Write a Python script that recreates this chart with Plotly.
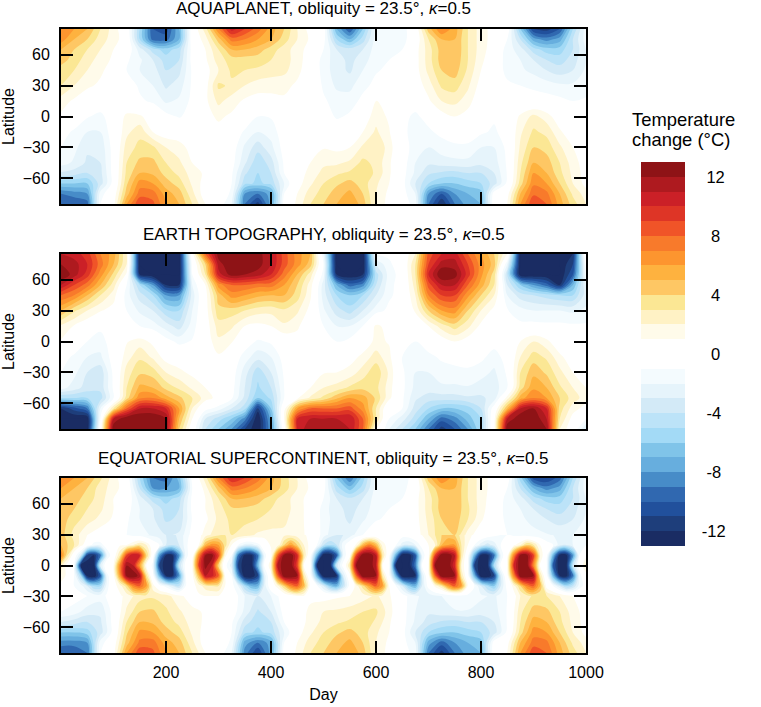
import plotly.graph_objects as go

# ---------- shared axes ----------
days = [25 * i for i in range(41)]
days_fine = [12.5 * i for i in range(81)]
lats = [85, 75, 65, 55, 45, 30, 15, 0, -15, -30, -45, -55, -65, -75, -85]
lat_ticks = [-60, -30, 0, 30, 60]
day_ticks = [200, 400, 600, 800, 1000]
cbar_ticks = [12, 8, 4, 0, -4, -8, -12]
cbar_text = ["\u00a012", "\u00a0\u00a08", "\u00a0\u00a04", "\u00a0\u00a00", "\u00a0-4", "\u00a0-8", "-12"]
titles = ["AQUAPLANET, obliquity = 23.5°, <i>κ</i>=0.5",
          "EARTH TOPOGRAPHY, obliquity = 23.5°, <i>κ</i>=0.5",
          "EQUATORIAL SUPERCONTINENT, obliquity = 23.5°, <i>κ</i>=0.5"]

blues = ["#1A2C63", "#1E3E7B", "#21509C", "#3068B0", "#478CC8", "#67AEDE",
         "#80C4E9", "#A3DAF6", "#BCE3F8", "#D3EAF7", "#E6F4FB", "#F4FBFE"]
reds = ["#FFFBEA", "#FFF2C5", "#FBE794", "#FEC764", "#FEB23F", "#FD952F",
        "#F87A2B", "#F05428", "#DE3526", "#CB2027", "#AE1A1F", "#8E1316"]

# ---------- panel 1: aquaplanet ----------
aqua_z = [
 [7,6,5,3,1.5,0,-5,-10,-10.5,-7,0,2.5,7,10.5,9,7.5,5.5,4,2,.5,-.2,-7,-10,-6,-1.5,-1.5,-1.5,0,4.5,7,5.5,3,1.5,.5,0,-6,-11,-11.5,-10,-5,-1.5],
 [6.5,5,4,2.5,1.5,.3,-5,-9.5,-9.5,-7,0,1.5,4.5,7.5,7,6,5,3.5,2,.8,-.5,-5,-7,-4.5,-1.5,-1.5,-1.5,0,3,5,5,3,1.5,.5,-1,-4,-7.5,-8.5,-7.5,-4,-1.5],
 [5,4,3,2,1,0,-2.5,-4.5,-5.5,-4.5,-.5,1,3,5,5,4.5,3.5,2.5,1.5,.5,-1,-3,-3.5,-3,-1.5,-1.2,-1,.5,2.5,4.5,5,3,1.5,.3,-1.5,-2.5,-4.5,-5.5,-5.5,-4,-2],
 [4.5,3.5,2.5,1.5,.8,-.8,-1.8,-3,-4.5,-4,-.5,.8,2.5,3.5,3.5,3.5,3,2.5,1.5,.3,-1.5,-2.5,-3.3,-2.5,-1.3,-1,-.8,.5,2.5,4.5,4.8,3,1.3,0,-1.5,-2,-3,-4,-4.5,-3.5,-2],
 [3.5,3,2,1.2,.5,-1,-2,-2.5,-4,-3.3,-.8,.5,2,3.2,3,2.8,2.6,2.3,1.3,.3,-1.5,-2.5,-3.2,-2,-1.1,-.8,-.5,.5,2.3,4,4.5,2.8,1,-.3,-1.3,-1.8,-2.3,-3,-3.5,-3,-1.8],
 [3,2,1.2,.8,.3,-.3,-1.2,-2,-3.2,-2.5,-.8,.5,3.2,2.8,2,1.5,1.3,1.3,.8,.3,-1.2,-2.2,-2.3,-1.3,-.7,-.3,0,.3,1.5,3.2,3.5,2.2,.5,-.3,-.8,-1,-1.2,-1.5,-1.8,-1.8,-1.3],
 [1.5,.8,.2,-.2,0,-.3,-.8,-1.2,-2.2,-1.8,-.7,.7,2.3,1.5,.8,.5,.7,.8,.5,.1,-.8,-1.5,-1.5,-.7,1.1,.3,0,-.5,.8,2,2.3,1.5,0,-.2,-.3,-.3,-.5,-.5,-.7,-1,-.9],
 [.8,0,-.9,-1.3,-.3,1.3,1.2,.3,-.6,-1.1,-.6,.6,1.2,.8,.1,-1,-.9,0,.3,.2,-.1,-1.2,-.8,.2,1.6,.8,-.7,-1.2,-.6,.5,1,.5,-.2,-.8,-.2,1.2,2.3,1.5,.2,-.5,-.8],
 [-.5,-1.2,-2,-2,-.3,1.7,2.7,1,.3,.2,0,.3,.6,0,-1.2,-2,-1.6,-.3,.3,.4,.4,.1,.3,1,2.2,1.1,-.8,-1.3,-1.2,-.7,-.2,-.2,-.8,-1.2,-.4,1.8,3.2,2.7,1.2,.1,-.1],
 [-1,-1.7,-2.8,-2.7,-.5,2.5,3.3,3.2,2,1.5,.5,.6,.5,-.3,-2.2,-3.6,-2.3,-.5,.3,.6,.9,.7,1,2.2,3,1.5,-.4,-1.5,-2,-1.5,-1.3,-1.3,-2,-2,-.7,2.2,4,3.6,2.2,1,.2],
 [-1.5,-2.2,-3.2,-3,-.5,3,4.3,4.3,3,2.2,1,.7,.4,-.5,-2.8,-4.8,-3.5,-.8,.3,1,1.8,1.8,2.2,3.3,2.7,1.2,-.4,-2,-2.8,-2.5,-2.3,-2.3,-2.7,-2.5,-.8,2.7,5,4.5,3,1.5,.4],
 [-3.2,-3.5,-4,-3.3,-.5,3.3,5,4.8,3.6,2.7,1.5,.8,.3,-.8,-3.8,-5,-4,-1,.3,1.4,2.3,2.8,3.2,3.7,2.8,1.2,-.5,-2.2,-3.8,-4.2,-4.4,-4,-4,-3,-.9,3,6,5,3.3,1.7,.5],
 [-6,-6,-6,-3.5,-.5,3.8,6.5,6,4.5,3.5,1.8,.5,0,-1,-4.7,-5.2,-4.7,-2,.5,1.8,3,3.8,4.4,3.5,2.2,1,-.5,-3,-5,-6,-6,-5.5,-5,-3.5,-.7,3.5,6.8,6,4,2,.6],
 [-9,-8.5,-8,-1.5,.2,4.5,7.5,7.5,5.5,4.5,2.3,.3,-.2,-1.2,-8,-9,-7.5,-1,1,2.5,3.5,4.5,5.3,4,2,.7,-.5,-2,-8,-10,-8,-7,-6.5,-.3,.5,5,7.8,7.3,5,2.8,1.5],
 [-10,-10,-9.5,-1,.5,6,9,8.3,6,5,3,1,-.3,-2,-9,-11.5,-7.5,-.5,1.3,3,4,5,6,4.5,2,.5,-.3,-1.5,-9,-12,-9,-7.5,-7,0,1,6,9,8,5.5,3.5,2],
]

# ---------- panel 2: earth topography ----------
earth_z = [
 [11,10.5,9.5,7,5.5,2,-13,-13,-13,-13,.5,8,12.5,13,13,12.5,11,8.5,6.5,5,-2,-13,-13,-13,-1,-.8,0,2,8.5,10,10.5,8,6,4,1,-13,-13,-13,-13,-12,1],
 [12,11.5,10,7.5,5,2,-13,-13,-13,-13,-.5,4,11.5,13,13,12.5,11,8.5,6.5,4.5,-1,-13,-13,-13,-3,-1.2,-.3,3,9,11.5,11.5,9,6.5,4.5,-2,-13,-13,-13,-13,-11,-.5],
 [13,11.5,9.5,6.5,3.7,.8,-12,-13,-13,-13,-1,3,10.5,12.5,12,11.5,10,7.5,5,2.5,-1.5,-12,-13,-12,-4.5,-1.5,-.5,3,10,13,12.5,9.5,6.3,3.5,-4,-13,-13,-13,-13,-10,-1],
 [11,9,7.5,5,2.5,-1,-5,-8,-12,-12,-2,1,6.5,8,8,7.5,7.5,6,4,1.5,-2.5,-7,-9.5,-8.5,-4,-1.3,-.5,2.5,8.5,11,11,8,5.5,3,-3,-6,-8,-9.5,-12,-7,-2],
 [8,7,5,3,1.5,-1.5,-3.5,-5,-8,-8,-2.5,.5,4.5,6.5,6,5.3,5,5,3.5,1.2,-2.5,-5,-6,-5,-3,-1.2,-.5,2,7,9,9,6.3,4,2,-2,-3.5,-4,-4.5,-5,-5,-2.5],
 [5,3.2,2,1.1,.5,-1,-2.2,-3,-4.7,-5,-2,.4,3.7,3.5,3,2.4,2.3,2.8,2.2,.6,-1.8,-3.5,-4.5,-3,-1.5,-.7,-.4,1.2,4,6,6.5,4,2,.6,-.9,-1.6,-2,-2,-2,-2.2,-1.8],
 [1.8,.9,.1,-.7,-.4,-.5,-1,-1.5,-2.5,-3.5,-1.5,.3,2.5,2.2,1,.7,1,1.8,1.2,.1,-1,-2,-2,-1,1.3,.5,.1,-.5,1,2.5,3.5,2.3,.7,-.3,-.7,-.7,-.6,-.7,-.7,-.8,-.8],
 [.9,0,-1,-1.5,-.3,.9,1.5,.7,-.5,-1.3,-.9,.2,1.8,1.1,-.2,-1.2,-.8,.1,.5,0,-.5,-1,-.7,.2,1.3,.9,-.5,-1,-.3,.3,1,.4,-.2,-.5,-.3,1,2,1.3,0,-.5,-.7],
 [-.5,-1.2,-2,-2.2,-.4,1.5,2.8,1.8,.5,.2,0,.3,.8,0,-1.5,-2.6,-2,-.5,.4,.5,.5,.2,.5,1.3,2.5,1.3,-1,-1.8,-1.3,-.8,-.5,-.3,-.7,-1.5,-.5,2,3.5,2.8,1.3,.2,-.2],
 [-1,-1.7,-3,-3.7,-.7,2.5,3.8,3.5,2,1.3,.7,.6,.7,-.3,-2.5,-4.7,-3,-.8,.4,.6,.9,1,1.4,2.5,3.7,1.8,-.8,-2,-2,-1.5,-1.4,-1.3,-1.6,-2.2,-.8,3,4.7,3.8,2.3,1,.2],
 [-1.6,-2.5,-3.5,-3.7,-.8,3,5.3,5,3.7,2.8,1.8,1,.6,-.5,-3,-5.2,-4,-1,.3,1,2,2.4,3.2,3.7,3.3,1.5,-.7,-2.3,-2.5,-2.2,-2.2,-2.1,-2.5,-2.6,-1,3.5,5.8,5,3.2,2,1],
 [-5,-5,-5,-4.5,-1,3.5,6.8,7,5.5,4.3,3,1.5,.6,-.8,-3.3,-6,-4.8,-1,.8,2.2,3.3,4.8,6,5.5,3.8,1.3,-.8,-2.8,-3.5,-3.5,-3.5,-3.2,-3.2,-2.6,1.5,5.5,7,6,4,2.5,1.5],
 [-12,-10.5,-9,-2,3,8,11,11,10,6,2,-.5,-1.5,-3,-4.5,-11.5,-6,.5,6,8,8,8,8.5,6.5,3,-.5,-1,-3.5,-5,-6,-6,-5.5,-4,-.3,5,11,12,10,3.5,1.5,.5],
 [-13,-13,-13,-1,11,13,13,13,12,5,1,-3,-4.5,-6,-8.5,-13,-7.5,1,10,11,11,11,11,8,3,-1,-2.5,-4.5,-7,-9.5,-8.5,-6.5,-5,.5,11,13,13,11,3,.5,-1],
 [-13,-13,-13,0,13,13,13,13,12,4,0,-4,-6,-8,-11,-13,-8,0,10,12,11.5,12,11,8,1,-2,-4,-6,-9,-11.5,-10,-8,-5,.5,13,13,13,12,2,0,-3],
]

# ---------- panel 3: equatorial supercontinent ----------
equa_north_lats = [85, 75, 65, 55, 45]
equa_north_z = [
 [7,6,5,3.2,1.5,0,-5,-9,-9.5,-6.5,-.5,2.5,7,10,9,7.5,5.5,3.5,2,.5,-.2,-6,-9,-5.5,-1.5,-1.5,-2,0,4.5,7,5.5,3,1.5,.5,0,-5.5,-10.5,-11,-9.5,-5,-1.5],
 [6,5,4,2.5,1.5,.3,-4,-8,-8,-7,-1,1.5,4.5,7.5,7,6,5,3.5,2,.8,-.5,-4.5,-6.5,-4.5,-1.5,-1.5,-1.5,0,3,5,5,3,1.5,.5,-1,-4,-7,-8.5,-7.5,-4,-1.5],
 [5,4.5,3.5,2.5,1,0,-2.5,-4.5,-5.5,-4.5,-.7,1,3,5,5,4.5,3.5,2.5,1.5,.5,-1,-3,-3.8,-3,-1.5,-1.2,-1,.5,2.5,4.5,5,3,1.5,.3,-1.5,-2.5,-4.5,-5.5,-5.5,-4,-2],
 [4.8,4,3,2.2,1,-.5,-2,-3,-4.5,-4,-.7,1,2.5,3.8,3.8,3.5,3,2.5,1.5,.5,-1.5,-2.7,-3.3,-2.7,-1.3,-1,-.8,.5,2.5,4.5,4.8,3.2,1.5,0,-1.5,-2,-3,-4,-4.5,-3.5,-2],
 [4.5,3.5,2.5,1.7,.8,-.8,-2,-2.8,-4.2,-3.8,-.9,.7,2.3,3.3,3.3,3,2.8,2.2,1.5,.5,-1.5,-2.5,-3.2,-2.2,-1.1,-.8,-.5,.5,2.3,4,4.6,3,1.2,-.2,-1.3,-1.8,-2.3,-3,-3.5,-3,-1.8],
]
equa_band_lats = [29.63, 20, 10, 0, -10, -20, -29.63]
equa_band_z = [
 [4.5,3.5,2.5,1.8,1,.5,.3,.1,-.3,-.5,-1,-1.3,-1.5,-2,-2.2,-2.5,-3,-3.2,-2.8,-1.5,-.5,.7,1.5,2.2,2.8,3,3,2.8,2.5,2.2,1.8,1.5,1.5,1.5,1.8,1.8,1.5,1.2,.6,-.5,-1.5,-2.5,-3,-3,-2.5,-1.5,-1,-.5,-.2,0,0,-.2,-.5,-.3,.3,1,2,3,4,4.5,4,2.5,1.5,.7,.2,-.3,-.8,-1,-1,-1.2,-1.3,-1.5,-1.7,-1.8,-1.9,-2,-2.2,-2.2,-2,-1.5,-1],
 [5,4,3,1.5,0,-1.5,-1.5,-.3,.5,.8,1,2,3,2,0,-1,-3,-4,-3,-1.5,.3,1,5,6.5,6,3.5,1,-1,-2.5,-2.5,-1.5,0,1.2,1.2,4,6,4,2,.5,-1,-4,-5,-4,-1.5,0,1.2,5,7,5,1.5,.3,-.8,-2.5,-3,-2,-.5,1,2,5,6,6,3,1,-1,-2.5,-3.5,-2.5,-1,0,.7,2,4,3,1,-.5,-1,-2.5,-3,-2,-1,-1],
 [7,3,0,-3,-11,-12,-9,-2, 0,3,9,11,10,4,0,-8, -12,-12,-8,-1.5,0,7,12,12.5, 9,1.5,-1,-9,-12.5,-12.5,-9,-1.5, .5,8,12.5,13,10,3,-.5,-7, -13,-13,-10,-2,.5,9,13,13, 11,3,-.5,-7,-13,-13,-10,-2, .5,9,13,13,11,3,-.5,-7, -12.5,-12.5,-9,-2,.5,7,12.5,12.5, 9,2,-.5,-7,-12.5,-12.5,-8,-1, .5],
 [2.5,.3,-1,-12,-13,-13,-3,.3, 1,7,12,11,6,1,-1.5,-11, -13,-12,-4,-.5,1,9,12.5,11, 4,-.5,-2.5,-11,-13,-13,-7,-.7, 2,11,13,13,9,1,-.5,-12, -13,-13,-3.5,-.5,3,12.5,13,13, 11,1,-.5,-12,-13,-13,-9,-1, 1,12.5,13,13,10,2,-.5,-11, -13,-12.5,-5,-.7,1,10,13,13, 7,.8,-.8,-10,-13,-12.5,-4,-.5, 2.5],
 [2,.5,-1,-5,-12.5,-13,-10,-1.5, .5,6,12.5,13,11.5,3.5,-.5,-7, -12,-12,-8,-1,.5,5,11,10.5, 8,1,-1,-8,-13,-13,-11,-2.5, .5,8,13,13,12,3,-.5,-7, -13,-13,-12,-3,.5,8,13,13, 12,3,-.5,-7,-13,-13,-12,-3, .5,8,13,13,12,3,-.5,-7, -13,-13,-11,-3,.5,7,13,13, 12,3,-.5,-7,-12,-12.5,-9,-1.5, .3],
 [.3,-.5,-1,-1.5,-3,-5,-5,-1.5,.5,1.5,3.5,7,8,6,1.5,-.3,-1.5,-3,-4,-1,.5,1.5,2.5,3,3,1,-.5,-2,-5,-7,-7,-2.5,0,1.5,4,7,8,5,.5,-.7,-3,-6,-7,-4,-.5,1.5,3.5,6,8,6,1,-.8,-3,-6,-7,-3,-.5,1.3,3,6,8,6,.8,-1,-3,-5,-6,-3,-.5,1.5,4,7,8,5,.5,-1,-3,-5,-4,-1.5,-.5],
 [-.3,-.4,-.5,-.7,-1,-1.3,-1.5,-.8,-.2,.8,1.5,2.1,2.5,2.7,2.8,2.7,2.5,1.8,1.2,.9,.6,.8,1,1,1,.5,0,-1,-2,-2.6,-3,-2.5,-2,-1,-.2,.4,1,1,.8,.6,.5,.6,.8,.9,1,1.2,1.5,1.9,2.2,1.7,1.2,.3,-.5,-1.2,-1.8,-2.2,-2.5,-2.2,-2,-1.7,-1.5,-1.4,-1.3,-1.5,-1.8,-2,-2.2,-1.6,-1,.5,2,2.7,3.2,3.1,3,2.5,2,1.5,1,.6,.2],
]
equa_south_lats = [-45, -55, -65, -75, -85]
equa_south_z = [
 [-1,-1.5,-2.5,-2.8,-.5,2.2,4,4.2,3.2,2.2,1.2,.9,.6,-.2,-2.3,-4.2,-3,-.5,.5,1.2,2,2.2,2.5,3,3.2,1.5,-.5,-2,-2.8,-2.3,-2.1,-2.1,-2.5,-2.5,-.9,2.7,4.5,4.3,3,1.5,.5],
 [-3,-3.5,-4,-3.2,-.5,3,5,4.8,3.6,2.7,1.5,.8,.3,-.8,-3.5,-4.8,-4,-1,.3,1.4,2.3,2.8,3.2,3.7,2.8,1.2,-.5,-2.2,-3.5,-4.2,-4.4,-4,-4,-3,-.9,3,5.5,5,3.3,1.7,.5],
 [-6,-6,-5.5,-3.5,-.5,3.8,6.3,6,4.5,3.5,1.8,.5,0,-1,-4.7,-5.2,-4.7,-2,.5,1.8,3,3.8,4.4,3.5,2.2,1,-.5,-3,-5,-5.8,-6,-5.5,-5,-3.5,-.7,3.5,6.5,6,4,2,.6],
 [-8.5,-8.5,-8,-1.5,.2,4.5,7.3,7.5,5.5,4.5,2.3,.3,-.2,-1.2,-7.5,-9,-7.5,-1,1,2.5,3.5,4.5,5.3,4,2,.7,-.5,-2,-7.5,-9.5,-8,-7,-6.5,-.3,.5,5,7.5,7.3,5,2.8,1.5],
 [-10,-10,-9,-1,.5,6,8.8,8.3,6,5,3,1,-.3,-2,-8.5,-11,-7.5,-.5,1.3,3,4,5,6,4.5,2,.5,-.3,-1.5,-9,-11.5,-9,-7.5,-7,0,1,6,8.8,8,5.5,3.5,2],
]

for grid, width in [(aqua_z, 41), (earth_z, 41), (equa_north_z, 41), (equa_south_z, 41), (equa_band_z, 81)]:
    assert all(len(row) == width for row in grid), [len(r) for r in grid]

# ---------- colour scale: one flat step per contour band ----------
bands = blues + ["#FFFFFF", "#FFFFFF"] + reds
colorscale = []
for i, c in enumerate(bands):
    colorscale.append([i / len(bands), c])
    colorscale.append([(i + 1) / len(bands), c])


def contour(x, y, z, axis, show=False):
    return go.Contour(
        x=x, y=y, z=z, xaxis="x" + axis, yaxis="y" + axis,
        colorscale=colorscale, zmin=-13, zmax=13,
        contours=dict(start=-13, end=13, size=1, coloring="fill", showlines=False),
        line=dict(width=0, smoothing=1), hoverinfo="skip", showscale=show,
        colorbar=dict(
            x=641 / 761, xanchor="left", xpad=0, ypad=0,
            y=1 - 162 / 707, yanchor="top", len=384 / 707, lenmode="fraction",
            thickness=44, thicknessmode="pixels", outlinewidth=0,
            tickmode="array", tickvals=cbar_ticks, ticktext=cbar_text,
            ticks="outside", ticklen=14, tickcolor="rgba(0,0,0,0)",
            tickfont=dict(size=16.5, color="black"),
        ),
    )


fig = go.Figure()
fig.add_trace(contour(days, lats, aqua_z, "", show=True))
fig.add_trace(contour(days, lats, earth_z, "2"))
fig.add_trace(contour(days, equa_north_lats + [29.63], equa_north_z + [equa_band_z[0][::2]], "3"))
fig.add_trace(contour(days_fine, equa_band_lats, equa_band_z, "3"))
fig.add_trace(contour(days, [-29.63] + equa_south_lats, [equa_band_z[-1][::2]] + equa_south_z, "3"))

FONT = "Liberation Sans, Arial, sans-serif"
panels = [("", 29, 204), ("2", 254, 429), ("3", 478, 653)]
layout = dict(
    width=761, height=707, margin=dict(l=0, r=0, t=0, b=0, autoexpand=False),
    paper_bgcolor="white", plot_bgcolor="white",
    font=dict(family=FONT, size=16, color="black"), showlegend=False,
)
annotations = []
for n, (suffix, top, bottom) in enumerate(panels):
    last = suffix == "3"
    common = dict(showline=True, linewidth=2, linecolor="black", mirror="allticks",
                  ticks="inside", ticklen=12, tickwidth=2, tickcolor="black",
                  showgrid=False, zeroline=False, tickmode="array")
    layout["xaxis" + suffix] = dict(
        common, domain=[61 / 761, 586 / 761], range=[0, 1000], tickvals=day_ticks,
        showticklabels=last, ticklabelstandoff=4, anchor="y" + suffix,
        **({"title": dict(text="Day", standoff=9, font=dict(size=16))} if last else {}))
    layout["yaxis" + suffix] = dict(
        common, domain=[1 - bottom / 707, 1 - top / 707], range=[-85, 85],
        tickvals=lat_ticks, ticklabelstandoff=6, anchor="x" + suffix,
        title=dict(text="Latitude", standoff=7, font=dict(size=16)))
    annotations.append(dict(text=titles[n], x=323.5 / 761, y=1 - (top - 20) / 707,
                            xref="paper", yref="paper", xanchor="center", yanchor="middle",
                            showarrow=False, font=dict(size=17)))
for text, py in [("Temperature", 120), ("change (°C)", 140)]:
    annotations.append(dict(text=text, x=630 / 761, y=1 - py / 707,
                            xref="paper", yref="paper", xanchor="left", yanchor="middle",
                            showarrow=False, font=dict(size=18.4)))
layout["annotations"] = annotations
fig.update_layout(**layout)

fig.write_html("out.html", config={"displayModeBar": False},
               post_script="document.body.style.margin='0';")
